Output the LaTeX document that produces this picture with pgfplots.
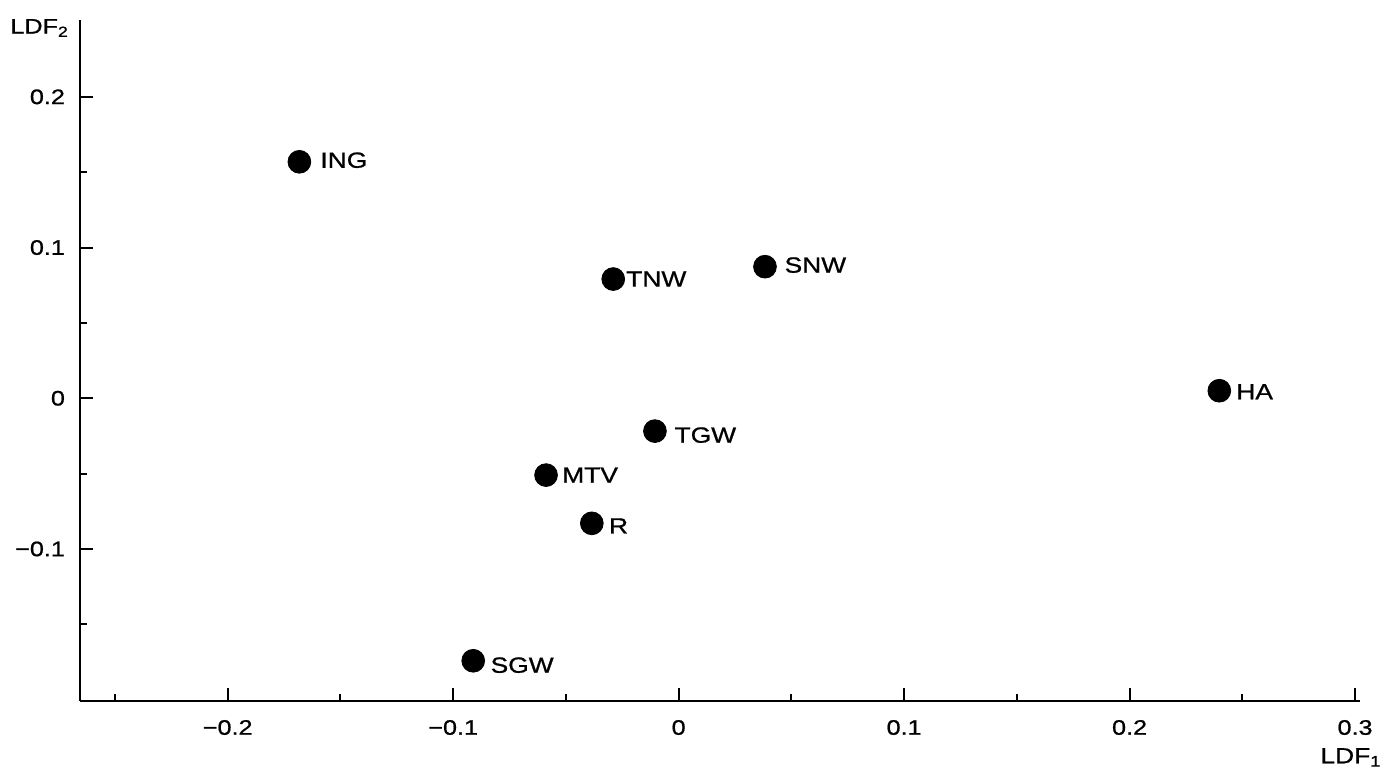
\documentclass[border=0pt]{standalone}
\usepackage{fontspec}
\setmainfont[FakeStretch=1.2, FakeBold=0.9]{Liberation Sans}
\usepackage{pgfplots}
\pgfplotsset{compat=1.18}
\usepackage{pgfplotstable}

\pgfplotstableread{
x y label dx dy
-0.1682 0.1569 ING 10.3 0.8
-0.0290 0.0791 TNW 6.3 0
0.0383 0.0873 SNW 9.6 0.8
0.2398 0.0050 HA 8.3 -0.5
-0.0105 -0.0218 TGW 9.6 -2
-0.0588 -0.0510 MTV 7.9 0
-0.0385 -0.0830 R 8.4 -1.3
-0.0911 -0.1742 SGW 8.5 -2.2
}\pts

\begin{document}
\begin{tikzpicture}
\path[use as bounding box] (0,0) rectangle (695pt,385.5pt);
\begin{axis}[
  at={(40pt,35pt)}, anchor=south west,
  scale only axis, width=640pt, height=340.5pt,
  xmin=-0.2655, xmax=0.3022, ymin=-0.2009, ymax=0.251,
  axis lines=left,
  axis line style={-, line width=1.2pt},
  tick align=inside,
  major tick length=6.5pt, minor tick length=3.5pt,
  every tick/.style={black, line width=1pt},
  xtick={-0.2,-0.1,0,0.1,0.2,0.3},
  xticklabels={−0.2,−0.1,0,0.1,0.2,0.3},
  minor xtick={-0.25,-0.15,-0.05,0.05,0.15,0.25},
  ytick={-0.1,0,0.1,0.2},
  yticklabels={−0.1,0,0.1,0.2},
  minor ytick={-0.15,-0.05,0.05,0.15},
  ticklabel style={font=\fontsize{10.5}{12}\selectfont},
  xticklabel style={yshift=-6pt},
  yticklabel style={xshift=-4pt},
  clip=false,
]
\addplot[only marks, mark=*, mark size=5.7pt, mark options={fill=black, draw=black},
  point meta=explicit symbolic,
  visualization depends on={\thisrow{dx} \as \dx},
  visualization depends on={\thisrow{dy} \as \dy},
  nodes near coords,
  nodes near coords style={anchor=west, inner sep=0pt, xshift=\dx pt, yshift=\dy pt,
    font=\fontsize{11}{13}\selectfont, text=black},
] table[x=x, y=y, meta=label] {\pts};
\end{axis}
\node[anchor=west, inner sep=0pt, font=\fontsize{10.5}{12}\selectfont] at (5pt,371.5pt) {LDF\textsubscript{2}};
\node[anchor=west, inner sep=0pt, font=\fontsize{11}{12}\selectfont] at (660pt,6.8pt) {LDF\textsubscript{1}};
\end{tikzpicture}
\end{document}
